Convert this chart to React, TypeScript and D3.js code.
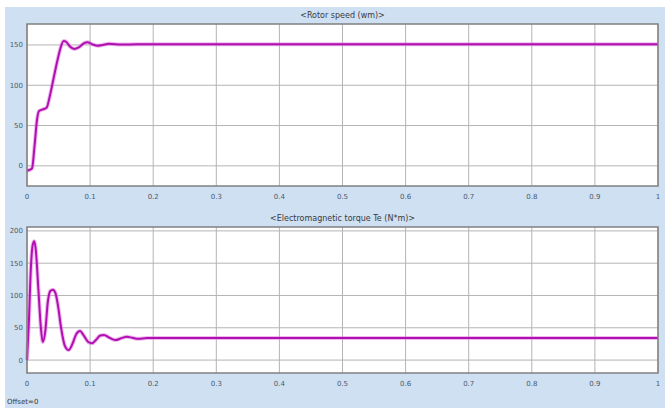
import * as d3 from "d3";

// Rotor speed (wm)
const speedTime = [0, 0.004, 0.008, 0.012, 0.016, 0.019, 0.025, 0.031, 0.036, 0.042, 0.048, 0.053, 0.058, 0.062, 0.068, 0.075, 0.082, 0.09, 0.096, 0.103, 0.112, 0.12, 0.13, 0.15, 0.2, 1];
const speedValue = [-6, -5, -3, 25, 58, 68, 70, 72, 86, 108, 130, 146, 155, 154, 148, 145, 147, 152, 153.5, 151, 149, 150, 151.5, 150.5, 151, 151];

// Electromagnetic torque Te (N*m)
const torqueTime = [0, 0.003, 0.006, 0.009, 0.0115, 0.014, 0.018, 0.022, 0.025, 0.029, 0.033, 0.037, 0.041, 0.045, 0.049, 0.054, 0.06, 0.066, 0.072, 0.078, 0.084, 0.09, 0.097, 0.103, 0.11, 0.116, 0.122, 0.13, 0.14, 0.15, 0.158, 0.167, 0.176, 0.19, 0.2, 1];
const torqueValue = [0, 60, 140, 178, 184, 170, 110, 50, 28, 45, 90, 107, 109, 104, 85, 50, 22, 15.5, 25, 40, 45, 38, 28, 26, 32, 38, 39, 35, 31, 34, 36, 34.5, 33, 34, 34, 34];

const xTicks = [0, 0.1, 0.2, 0.3, 0.4, 0.5, 0.6, 0.7, 0.8, 0.9, 1];
const speedTicks = [0, 50, 100, 150];
const torqueTicks = [0, 50, 100, 150, 200];

const W = 665;
const H = 408;
const left = 27;
const right = 658;

type PanelProps = {
  top: number;
  bottom: number;
  yDomain: [number, number];
  yTicks: number[];
  times: number[];
  values: number[];
  title: string;
};

function Panel({ top, bottom, yDomain, yTicks, times, values, title }: PanelProps) {
  const x = d3.scaleLinear([0, 1], [left, right]);
  const y = d3.scaleLinear(yDomain, [bottom, top]);
  const pts = times.map((t, i) => [t, values[i]] as [number, number]);
  const line = d3
    .line<[number, number]>()
    .x((d) => x(d[0]))
    .y((d) => y(d[1]))
    .curve(d3.curveMonotoneX);

  return (
    <g>
      <text x={(left + right) / 2} y={top - 6} textAnchor="middle" fontSize={8} fill="#3a3a3a">
        {title}
      </text>
      <rect x={left} y={top} width={right - left} height={bottom - top} fill="#ffffff" />
      <g stroke="#b4b4b4" strokeWidth={1}>
        {xTicks.map((t) => (
          <line key={"gx" + t} x1={x(t)} x2={x(t)} y1={top} y2={bottom} />
        ))}
        {yTicks.map((t) => (
          <line key={"gy" + t} x1={left} x2={right} y1={y(t)} y2={y(t)} />
        ))}
      </g>
      <path d={line(pts) ?? ""} fill="none" stroke="#e070e0" strokeWidth={4} strokeOpacity={0.5} />
      <path d={line(pts) ?? ""} fill="none" stroke="#b010b0" strokeWidth={2} />
      <rect x={left} y={top} width={right - left} height={bottom - top} fill="none" stroke="#808080" strokeWidth={1.5} />
      <g fontSize={7} fill="#4a5a6a" fontFamily="DejaVu Sans, sans-serif">
        {xTicks.map((t) => (
          <text key={"lx" + t} x={x(t)} y={bottom + 13} textAnchor="middle">
            {String(t)}
          </text>
        ))}
        {yTicks.map((t) => (
          <text key={"ly" + t} x={left - 4} y={y(t) + 2.5} textAnchor="end">
            {String(t)}
          </text>
        ))}
      </g>
    </g>
  );
}

export default function App() {
  return (
    <svg
      width={W}
      height={H}
      style={{ position: "absolute", left: 0, top: 0, display: "block" }}
      fontFamily="DejaVu Sans, sans-serif"
    >
      <rect x={0} y={0} width={W} height={H} fill="#ffffff" />
      <rect x={5} y={7} width={W - 5} height={H - 7} fill="#cfe0f3" />
      <Panel
        top={24}
        bottom={186}
        yDomain={[-25, 176]}
        yTicks={speedTicks}
        times={speedTime}
        values={speedValue}
        title="<Rotor speed (wm)>"
      />
      <Panel
        top={227}
        bottom={373}
        yDomain={[-20, 206]}
        yTicks={torqueTicks}
        times={torqueTime}
        values={torqueValue}
        title="<Electromagnetic torque Te (N*m)>"
      />
      <text x={7} y={404} fontSize={7} fill="#3a3a3a">
        Offset=0
      </text>
    </svg>
  );
}
